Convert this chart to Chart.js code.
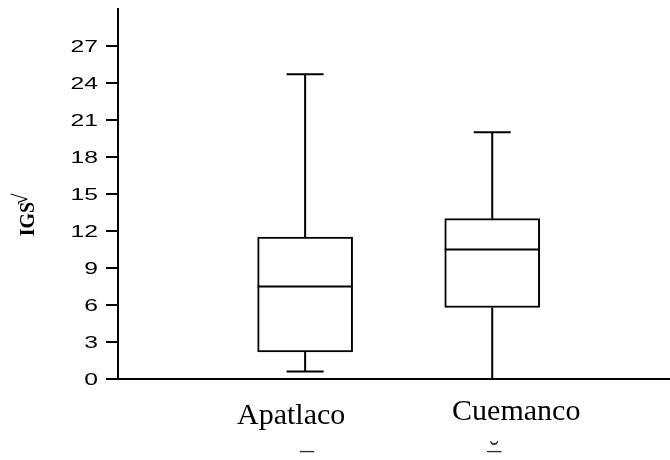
<!DOCTYPE html>
<html>
<head>
<meta charset="utf-8">
<script src="https://cdn.jsdelivr.net/npm/chart.js@4.4.1/dist/chart.umd.min.js"></script>
<style>
  html, body { margin: 0; padding: 0; background: #fff; }
  #wrap { width: 670px; height: 460px; }
</style>
</head>
<body>
<div id="wrap"><canvas id="grafico" width="670" height="460"></canvas></div>
<script>
// Dados do boxplot
const categorias = ['Apatlaco', 'Cuemanco'];
const posicoes = [1, 2];
const minimos = [0.6, 0];
const quartil1 = [2.2, 5.8];
const medianas = [7.5, 10.5];
const quartil3 = [11.5, 13];
const maximos = [24.7, 20];
const ticksY = [0, 3, 6, 9, 12, 15, 18, 21, 24, 27];
const marcasAbaixo = ['_', '˘'];

// desenha bigodes, medianas e rótulos usando as escalas do gráfico
const boxplotExtras = {
    id: 'boxplotExtras',
    afterDatasetsDraw(chart) {
        const ctx = chart.ctx;
        const x = chart.scales.x;
        const y = chart.scales.y;
        const meta = chart.getDatasetMeta(0);
        ctx.save();
        ctx.strokeStyle = '#000';
        ctx.lineWidth = 2;
        posicoes.forEach((p, i) => {
            const cx = x.getPixelForValue(p);
            const bar = meta.data[i];
            const half = bar.width / 2;
            const cap = 18.5;
            ctx.beginPath();
            // mediana
            ctx.moveTo(cx - half, y.getPixelForValue(medianas[i]));
            ctx.lineTo(cx + half, y.getPixelForValue(medianas[i]));
            // bigode superior
            ctx.moveTo(cx, y.getPixelForValue(quartil3[i]));
            ctx.lineTo(cx, y.getPixelForValue(maximos[i]));
            ctx.moveTo(cx - cap, y.getPixelForValue(maximos[i]));
            ctx.lineTo(cx + cap, y.getPixelForValue(maximos[i]));
            // bigode inferior
            ctx.moveTo(cx, y.getPixelForValue(quartil1[i]));
            ctx.lineTo(cx, y.getPixelForValue(minimos[i]));
            ctx.moveTo(cx - cap, y.getPixelForValue(minimos[i]));
            ctx.lineTo(cx + cap, y.getPixelForValue(minimos[i]));
            ctx.stroke();
        });

        // rótulos do eixo Y (a figura original está esticada na horizontal)
        ctx.fillStyle = '#000';
        ctx.font = '17px "Liberation Sans", Arial, sans-serif';
        ctx.textAlign = 'right';
        ctx.textBaseline = 'middle';
        ticksY.forEach(v => {
            ctx.save();
            ctx.translate(98, y.getPixelForValue(v) + 1);
            ctx.scale(1.45, 1);
            ctx.fillText(String(v), 0, 0);
            ctx.restore();
        });

        // rótulos das categorias (fonte serifada, levemente deslocados como no original)
        const deslocX = [-14, 24];
        const baseY = [424, 420];
        ctx.font = '30px "Liberation Serif", "Times New Roman", serif';
        ctx.textAlign = 'center';
        ctx.textBaseline = 'alphabetic';
        categorias.forEach((c, i) => {
            ctx.fillText(c, x.getPixelForValue(posicoes[i]) + deslocX[i], baseY[i]);
        });
        ctx.fillStyle = '#333';
        ctx.font = '28px "Liberation Serif", serif';
        ctx.fillText(marcasAbaixo[0], x.getPixelForValue(posicoes[0]) + 2, 449);
        ctx.fillText('_', x.getPixelForValue(posicoes[1]) + 2, 449);
        ctx.fillText(marcasAbaixo[1], x.getPixelForValue(posicoes[1]) + 2, 460);

        // título do eixo Y
        ctx.translate(29, 219);
        ctx.rotate(-Math.PI / 2);
        ctx.fillStyle = '#000';
        ctx.font = 'bold 20px "Liberation Serif", "Times New Roman", serif';
        ctx.textAlign = 'center';
        ctx.textBaseline = 'middle';
        ctx.fillText('IGS', 0, 0);
        ctx.font = 'bold 21px "Liberation Serif", serif';
        ctx.textAlign = 'left';
        ctx.fillText('√', 14, -7);
        ctx.restore();
    }
};

const ctx = document.getElementById('grafico').getContext('2d');
new Chart(ctx, {
    type: 'bar',
    data: {
        datasets: [{
            data: posicoes.map((p, i) => ({ x: p, y: [quartil1[i], quartil3[i]] })),
            backgroundColor: '#fff',
            borderColor: '#000',
            borderWidth: 2,
            borderSkipped: false,
            barThickness: 95
        }]
    },
    options: {
        responsive: false,
        animation: false,
        layout: { padding: { top: 9, right: 0, left: 0, bottom: 0 } },
        plugins: {
            legend: { display: false },
            tooltip: { enabled: false }
        },
        scales: {
            x: {
                type: 'linear',
                offset: false,
                min: 0,
                max: 2.95,
                grid: { display: false },
                border: { display: true, color: '#000', width: 2 },
                ticks: { display: false },
                afterFit: (s) => { s.height = 81; }
            },
            y: {
                min: 0,
                max: 30,
                afterBuildTicks: (s) => { s.ticks = ticksY.map(v => ({ value: v })); },
                grid: { drawOnChartArea: false, drawTicks: true, tickLength: 12, color: '#000', lineWidth: 2 },
                border: { display: true, color: '#000', width: 2 },
                ticks: { display: false },
                afterFit: (s) => { s.width = 118; }
            }
        }
    },
    plugins: [boxplotExtras]
});
</script>
</body>
</html>
